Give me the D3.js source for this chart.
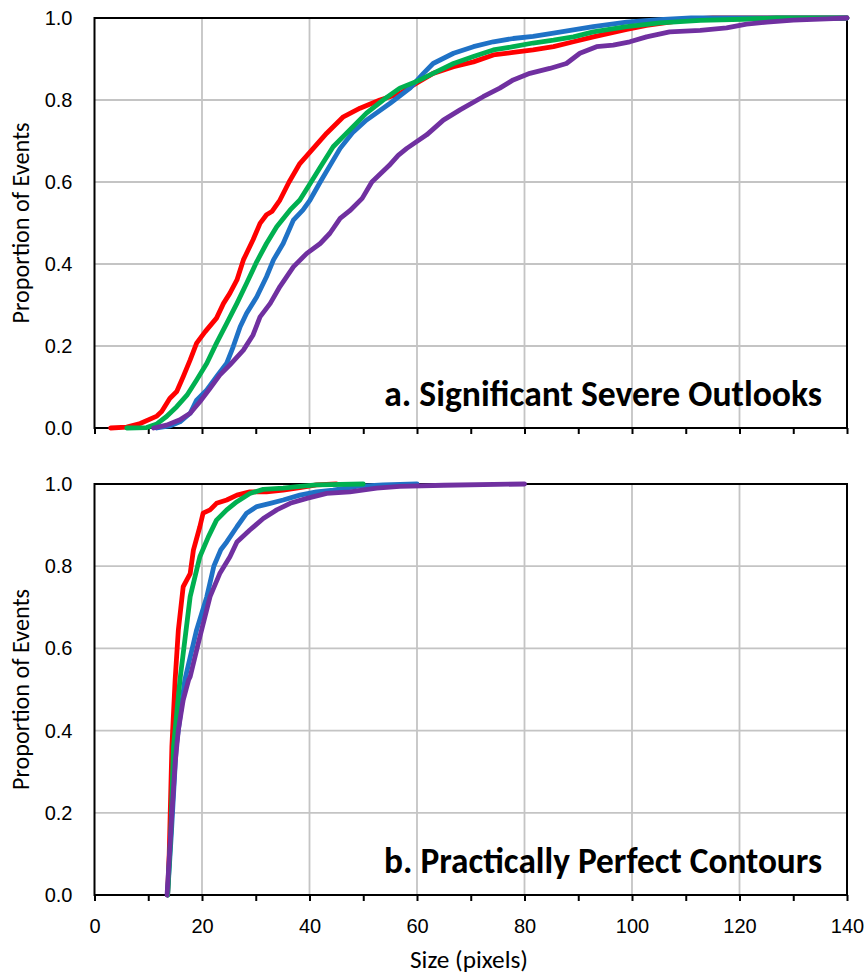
<!DOCTYPE html>
<html>
<head>
<meta charset="utf-8">
<script src="https://cdn.jsdelivr.net/npm/d3@7"></script>
<style>
  body { margin: 0; background: #fff; }
  svg { display: block; font-family: Carlito, Calibri, Lato, sans-serif; }
</style>
</head>
<body>
<svg class="cdf" width="864" height="976"></svg>
<script>
// x axis (size in pixels) and y axis (proportion) ticks
const xTicks = [0, 10, 20, 30, 40, 50, 60, 70, 80, 90, 100, 110, 120, 130, 140];
const xLabels = [0, 20, 40, 60, 80, 100, 120, 140];
const yTicks = [0, 0.2, 0.4, 0.6, 0.8, 1.0];

const seriesKeys = ['red', 'blue', 'green', 'purple'];
const seriesColors = ['#ff0000', '#1f72c6', '#00b050', '#7030a0'];

// a. Significant Severe Outlooks
const sigRed = [[3,0],[6,0.002],[8.5,0.011],[11.6,0.029],[12.5,0.04],[14,0.072],[15.3,0.089],[16.5,0.125],[17.8,0.166],[19,0.207],[20.6,0.235],[22.7,0.268],[24,0.304],[25.2,0.329],[26.5,0.361],[27.7,0.41],[29.5,0.459],[30.8,0.499],[32,0.52],[33,0.528],[34.5,0.556],[36.2,0.6],[38.2,0.645],[40.7,0.682],[43.2,0.719],[46.3,0.759],[49.4,0.78],[53.1,0.8],[56.8,0.816],[59.9,0.841],[63,0.865],[66.8,0.881],[70.5,0.893],[74.2,0.91],[77.9,0.916],[81.6,0.922],[85.4,0.93],[89.1,0.942],[92.8,0.954],[95.9,0.963],[99,0.972],[102.7,0.982],[107,0.99],[111.4,0.998],[115,1],[140,1]];
const sigGreen = [[6,0],[9.7,0.001],[11.6,0.01],[13.4,0.028],[15.3,0.052],[17.2,0.08],[19,0.117],[20.9,0.158],[22.7,0.207],[24.6,0.255],[26.5,0.304],[28.3,0.353],[30.2,0.406],[32,0.45],[33.9,0.491],[36.4,0.532],[38.2,0.556],[40.3,0.6],[42.2,0.64],[44.4,0.686],[47.5,0.727],[50.6,0.768],[53.7,0.8],[56.8,0.829],[59.9,0.845],[63,0.865],[66.8,0.889],[70.5,0.906],[74.2,0.922],[77.9,0.93],[81.6,0.939],[85.4,0.946],[89.1,0.954],[92.8,0.966],[99,0.979],[105.2,0.988],[112.7,0.994],[120.6,0.997],[127,1],[140,1]];
const sigBlue = [[11.6,0],[14,0.005],[15.9,0.015],[17.8,0.036],[19,0.068],[20.9,0.093],[22.7,0.125],[24.6,0.158],[25.8,0.198],[27.1,0.247],[28.3,0.28],[30.2,0.32],[32,0.369],[33.3,0.41],[35.1,0.45],[37,0.507],[38.8,0.532],[40.1,0.556],[42,0.6],[43.8,0.64],[45.7,0.682],[48,0.72],[50.6,0.751],[55,0.792],[58.7,0.829],[61.2,0.865],[63,0.889],[66.8,0.914],[70.5,0.93],[74.2,0.942],[77.9,0.95],[81.6,0.955],[85.4,0.963],[89.1,0.971],[92.8,0.979],[99,0.99],[105,0.996],[111,1],[140,1]];
const sigPurple = [[11,0],[13.4,0.007],[15.9,0.02],[17.8,0.036],[19.6,0.064],[21.5,0.097],[23.3,0.129],[25.2,0.154],[27.7,0.19],[29.5,0.227],[30.8,0.271],[32.7,0.304],[34.5,0.345],[37,0.393],[39.5,0.426],[42,0.45],[43.8,0.475],[45.7,0.511],[47.5,0.53],[49.8,0.56],[51.6,0.6],[54.8,0.64],[56.5,0.665],[58.1,0.682],[61.8,0.715],[64.9,0.751],[68,0.776],[72.3,0.808],[75.4,0.829],[77.9,0.849],[81,0.865],[84.7,0.877],[87.8,0.889],[90.3,0.914],[93.4,0.93],[96.5,0.934],[99.6,0.942],[102.7,0.954],[107,0.966],[112.7,0.97],[117.6,0.976],[121.3,0.985],[125.1,0.99],[130,0.995],[136.2,0.998],[140,1]];

// b. Practically Perfect Contours
const ppRed = [[13.6,0],[13.9,0.1],[14.4,0.361],[15,0.523],[15.6,0.645],[16.5,0.75],[17.8,0.782],[18.4,0.839],[19.6,0.896],[20.2,0.929],[21.5,0.937],[22.7,0.953],[24.6,0.961],[26.5,0.973],[28.9,0.981],[32,0.981],[35.1,0.985],[38.2,0.991],[41.3,0.998],[45,1]];
const ppGreen = [[13.6,0],[14.2,0.15],[14.7,0.361],[15.9,0.523],[17.8,0.726],[19.6,0.823],[21.2,0.872],[22.7,0.912],[24.6,0.937],[26.5,0.957],[28.9,0.977],[31.4,0.987],[35.1,0.99],[38.2,0.994],[41.3,0.998],[50,1]];
const ppBlue = [[13.6,0],[14.3,0.15],[15.2,0.361],[16.8,0.523],[19,0.645],[20.9,0.726],[22.2,0.8],[23.5,0.84],[24.6,0.859],[26.5,0.896],[28.3,0.929],[30.2,0.945],[32.7,0.953],[35.1,0.961],[38.2,0.973],[41.3,0.981],[44.4,0.985],[48.8,0.994],[53.7,0.998],[60,1]];
const ppPurple = [[13.5,0],[14.4,0.199],[15,0.321],[15.6,0.402],[16.5,0.474],[17.5,0.523],[17.8,0.531],[19.6,0.628],[21.5,0.726],[23.3,0.782],[25.2,0.823],[26.5,0.859],[28.9,0.888],[31.4,0.916],[33.9,0.937],[36.4,0.953],[39.5,0.965],[43.2,0.977],[47.5,0.981],[52.5,0.99],[56.8,0.994],[65,0.997],[80,1]];

const panels = [
    { label: 'a. Significant Severe Outlooks', top: 18, bottom: 428, showX: false,
      series: { red: sigRed, blue: sigBlue, green: sigGreen, purple: sigPurple } },
    { label: 'b. Practically Perfect Contours', top: 484, bottom: 895, showX: true,
      series: { red: ppRed, blue: ppBlue, green: ppGreen, purple: ppPurple } }
];

const svg = d3.select('.cdf');
const left = 94.5, right = 847;

const xScale = d3.scaleLinear().domain([0, 140]).range([left, right]);
const color = d3.scaleOrdinal().domain(seriesKeys).range(seriesColors);

// shrink or grow text so it spans a given width
function fitText(sel, target) {
    const len = sel.node().getComputedTextLength();
    const fs = parseFloat(sel.style('font-size'));
    sel.style('font-size', (fs * target / len) + 'px');
}

panels.forEach(p => {
    const yScale = d3.scaleLinear().domain([0, 1]).range([p.bottom, p.top]);
    const g = svg.append('g');

    // grid
    g.append('g')
        .selectAll('line.vg')
        .data(xLabels.filter(d => d > 0 && d < 140))
        .join('line')
        .attr('x1', d => xScale(d)).attr('x2', d => xScale(d))
        .attr('y1', p.top).attr('y2', p.bottom)
        .attr('stroke', '#c4c4c4').attr('stroke-width', 1.8);
    g.append('g')
        .selectAll('line.hg')
        .data(yTicks.filter(d => d > 0 && d < 1))
        .join('line')
        .attr('x1', left).attr('x2', right)
        .attr('y1', d => yScale(d)).attr('y2', d => yScale(d))
        .attr('stroke', '#c4c4c4').attr('stroke-width', 1.8);

    // x axis ticks (labels only on lower panel)
    const xa = g.append('g')
        .attr('transform', `translate(0, ${p.bottom})`)
        .call(d3.axisBottom(xScale)
            .tickValues(xTicks)
            .tickSize(6)
            .tickPadding(18)
            .tickFormat(d => (p.showX && d % 20 === 0) ? d : ''));
    xa.select('.domain').remove();
    xa.selectAll('line').attr('stroke', '#000').attr('stroke-width', 2);
    xa.selectAll('text').style('font-size', '20px').attr('fill', '#000');

    // y axis
    const ya = g.append('g')
        .attr('transform', `translate(${left}, 0)`)
        .call(d3.axisLeft(yScale)
            .tickValues(yTicks)
            .tickSize(0)
            .tickPadding(22)
            .tickFormat(d3.format('.1f')));
    ya.select('.domain').remove();
    ya.selectAll('text').style('font-size', '20px').attr('fill', '#000');

    // plot border
    g.append('rect')
        .attr('x', left).attr('y', p.top)
        .attr('width', right - left).attr('height', p.bottom - p.top)
        .attr('fill', 'none').attr('stroke', '#000').attr('stroke-width', 2);

    const line = d3.line()
        .x(d => xScale(d[0]))
        .y(d => yScale(d[1]));

    g.append('g')
        .selectAll('path')
        .data(seriesKeys)
        .join('path')
        .attr('d', k => line(p.series[k]))
        .attr('fill', 'none')
        .attr('stroke', k => color(k))
        .attr('stroke-width', 4.8)
        .attr('stroke-linejoin', 'round')
        .attr('stroke-linecap', 'round');

    // panel label
    const lab = g.append('text')
        .attr('x', 822)
        .attr('y', p.bottom - 22)
        .attr('text-anchor', 'end')
        .style('font-weight', 'bold')
        .style('font-size', '30px')
        .text(p.label);
    fitText(lab, 438);

    // y title
    const yt = g.append('text')
        .attr('transform', `translate(29, ${(p.top + p.bottom) / 2}) rotate(-90)`)
        .attr('text-anchor', 'middle')
        .style('font-size', '20px')
        .text('Proportion of Events');
    fitText(yt, 201);
});

const xt = svg.append('text')
    .attr('x', 469)
    .attr('y', 968)
    .attr('text-anchor', 'middle')
    .style('font-size', '20px')
    .text('Size (pixels)');
fitText(xt, 118);
</script>
</body>
</html>
